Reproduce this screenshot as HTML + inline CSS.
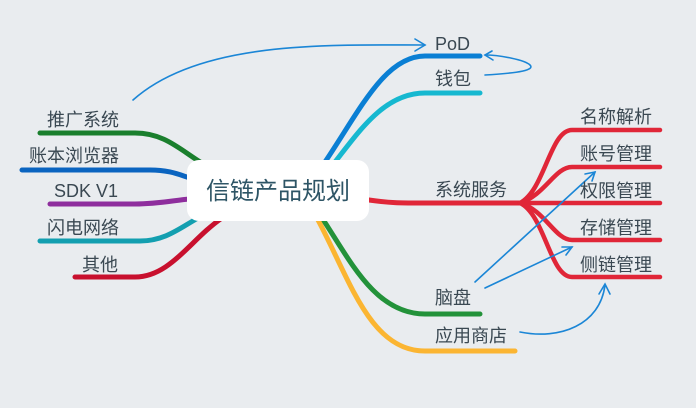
<!DOCTYPE html>
<html><head><meta charset="utf-8"><style>
html,body{margin:0;padding:0;background:#e9ecef;}
svg{display:block}
text{font-family:"Liberation Sans","Noto Sans CJK SC",sans-serif;fill:#3a4852;font-size:18px}
</style></head><body>
<svg width="696" height="408" viewBox="0 0 696 408" xmlns="http://www.w3.org/2000/svg">
<rect width="696" height="408" fill="#e9ecef"/>
<g fill="none" stroke-linecap="round" stroke-width="5">
<path d="M40 133 L135 133 C165 133 180 150 205 165" stroke="#1a7f2d"/>
<path d="M22 170 L150 170 C170 170 180 175 190 178" stroke="#0a64c0"/>
<path d="M50 204 L135 204 C160 204 175 200 190 199" stroke="#8e2e9d"/>
<path d="M40 241 L140 241 C165 241 180 228 198 218" stroke="#139fb0"/>
<path d="M75 277 L135 277 C170 277 190 240 222 218" stroke="#c8102e"/>
<path d="M325 162 C360 110 385 56 425 56 L480 56" stroke="#0a7fd4"/>
<path d="M335 162 C360 130 385 93 425 93 L480 93" stroke="#16b8d0"/>
<path d="M369 200 C390 203 400 203 420 203 L520 203" stroke="#e02638"/>
<path d="M322 218 C350 260 375 314 425 314 L480 314" stroke="#23923a"/>
<path d="M318 220 C350 280 370 351 425 351 L515 351" stroke="#fbb532"/>
<g stroke="#e02638" stroke-width="4.5">
<path d="M520 203 C545 190 550 130 572 130 L660 130"/>
<path d="M520 203 C545 195 555 167 572 167 L660 167"/>
<path d="M520 203 L660 203"/>
<path d="M520 203 C545 210 555 240 572 240 L660 240"/>
<path d="M520 203 C545 215 550 277 572 277 L660 277"/>
</g>
</g>
<rect x="187" y="160" width="182" height="61" rx="12" fill="#fff"/>
<text x="278" y="199" text-anchor="middle" style="font-size:24px;fill:#2e5566">信链产品规划</text>
<g fill="none" stroke="#1b86d6" stroke-width="1.6" stroke-linecap="round">
<path d="M133 100 C200 40 330 45 425 45"/>
<path d="M415 39 L425 45 L415 51"/>
<path d="M485 75 C520 73 535 70 530 65 C525 60 500 55 485 55"/>
<path d="M492 51 L485 55 L493 60"/>
<path d="M475 282 L595 172"/>
<path d="M585 174 L595 172 L592 181"/>
<path d="M485 288 L572 247"/>
<path d="M562 247 L572 247 L566 255"/>
<path d="M520 332 C560 340 600 325 605 285"/>
<path d="M599 294 L605 284 L610 294"/>
</g>
<g text-anchor="end">
<text x="119" y="126">推广系统</text>
<text x="119" y="162">账本浏览器</text>
<text x="118" y="197">SDK V1</text>
<text x="119" y="234">闪电网络</text>
<text x="118" y="271">其他</text>
</g>
<text x="435" y="50">PoD</text>
<text x="435" y="85">钱包</text>
<text x="435" y="196">系统服务</text>
<text x="435" y="304">脑盘</text>
<text x="435" y="342">应用商店</text>
<text x="580" y="123">名称解析</text>
<text x="580" y="160">账号管理</text>
<text x="580" y="197">权限管理</text>
<text x="580" y="234">存储管理</text>
<text x="580" y="271">侧链管理</text>
</svg>
</body></html>
